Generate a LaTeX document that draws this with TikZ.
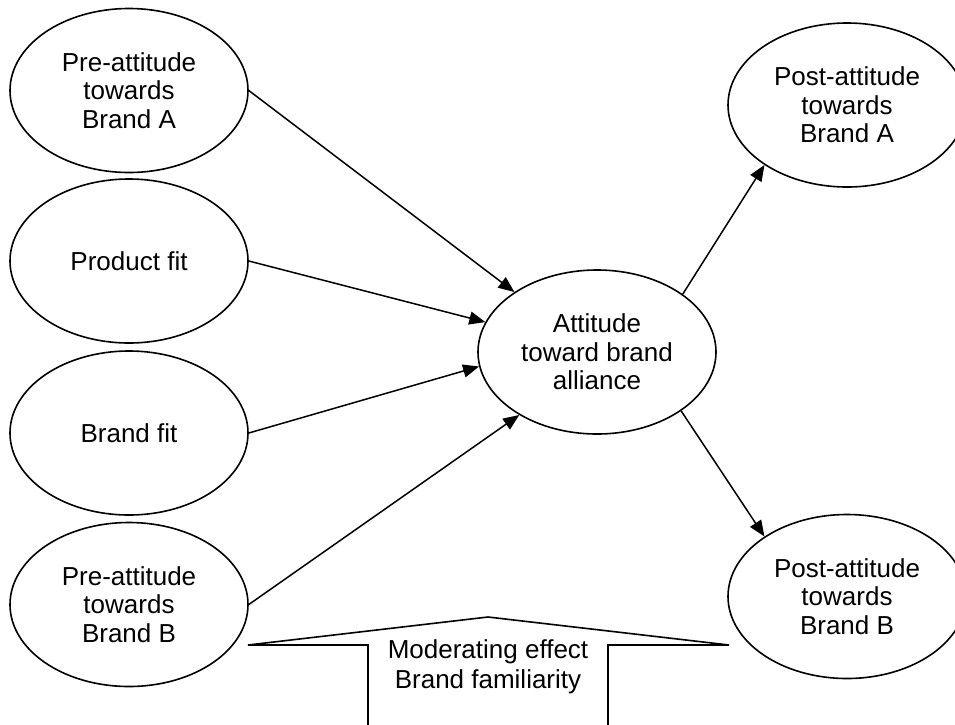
\documentclass[tikz,border=0pt]{standalone}
\usepackage{fontspec}
\setmainfont{Liberation Sans}
\usetikzlibrary{shapes.geometric,arrows.meta}
\begin{document}
\begin{tikzpicture}[x=1pt,y=-1pt,
  oval/.style={draw,line width=1.6pt,ellipse,minimum width=238pt,minimum height=164pt,inner sep=0pt,align=center,font=\fontsize{26}{28.5}\selectfont},
  link/.style={line width=1.5pt,-{Triangle[length=16pt,width=13pt]}},
  outline/.style={line width=1.6pt},
  label/.style={inner sep=0pt,align=center,font=\fontsize{26}{30}\selectfont}]
\useasboundingbox (0,0) rectangle (955,724);
\clip (0,0) rectangle (955,724);
\node[oval] (preA) at (129,90.5) {Pre-attitude\\towards\\Brand A};
\node[oval] (prod) at (129,261) {Product fit};
\node[oval] (bfit) at (129,433) {Brand fit};
\node[oval] (preB) at (129,604.5) {Pre-attitude\\towards\\Brand B};
\node[oval] (att) at (597,352) {Attitude\\toward brand\\alliance};
\node[oval] (postA) at (847,105) {Post-attitude\\towards\\Brand A};
\node[oval] (postB) at (847,596.5) {Post-attitude\\towards\\Brand B};
\draw[link] (preA.east) -- (att.144.9);
\draw[link] (prod.east) -- (att.165);
\draw[link] (bfit.east) -- (att.187.9);
\draw[link] (preB.east) -- (att.219.3);
\draw[link] (att.34.8) -- (postA.216.4);
\draw[link] (att.-35.2) -- (postB.144.7);
\coordinate (lt) at (248,645);
\coordinate (pk) at (488,617);
\coordinate (rt) at (729,645);
\coordinate (ls) at (368,645);
\coordinate (rs) at (608,645);
\coordinate (lb) at (368,730);
\coordinate (rb) at (608,730);
\draw[outline] (lb) -- (ls) -- (lt) -- (pk) -- (rt) -- (rs) -- (rb);
\node[label] (mod) at (488,667) {Moderating effect\\Brand familiarity};
\end{tikzpicture}
\end{document}
